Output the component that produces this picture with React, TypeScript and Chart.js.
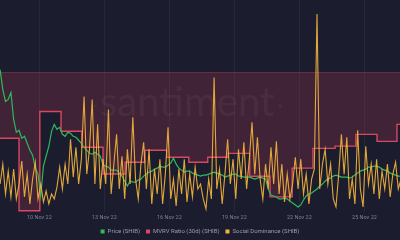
import React, { useEffect, useRef } from "react";
import { Chart, registerables } from "chart.js";

Chart.register(...registerables);

// Time is in hours since 9 Nov 2022 00:00
const SERIES_START_HOUR = -19.5;
const SERIES_STEP_HOURS = 3;
const X_MIN_HOUR = -19.6;
const X_MAX_HOUR = 423.4;

// Price (SHIB), in 1e-6 USD, every 3 hours
const priceShib = [
  11.1, 10.7, 10.46, 10.5, 10.64, 10.1, 9.84, 9.88, 9.72, 9.76,
  9.62, 9.48, 9.38, 9.12, 9.0, 8.56, 9.16, 9.36, 9.56, 9.86,
  10.0, 9.9, 9.94, 9.8, 9.76, 9.84, 9.82, 9.76, 9.74, 9.68,
  9.62, 9.54, 9.48, 9.42, 9.4, 9.44, 9.4, 9.36, 9.18, 9.16,
  9.14, 9.08, 9.08, 9.08, 9.02, 8.96, 8.86, 8.76, 8.86, 8.84,
  8.84, 8.88, 8.9, 8.96, 9.0, 9.04, 9.06, 9.1, 9.12, 9.16,
  9.14, 9.14, 9.18, 9.22, 9.32, 9.2, 9.12, 9.08, 9.04, 9.06,
  9.06, 9.02, 9.0, 8.98, 8.96, 8.98, 8.98, 9.0, 9.02, 9.04,
  9.02, 9.0, 8.98, 8.94, 8.96, 8.98, 9.0, 9.0, 8.96, 8.96,
  8.94, 8.94, 8.94, 8.92, 8.9, 8.92, 8.94, 8.92, 8.9, 8.7,
  8.58, 8.56, 8.54, 8.5, 8.5, 8.52, 8.5, 8.46, 8.42, 8.38,
  8.34, 8.38, 8.48, 8.56, 8.6, 8.62, 8.66, 8.7, 8.76, 8.8,
  8.86, 8.9, 8.92, 8.96, 8.98, 8.96, 8.94, 8.94, 8.94, 8.92,
  8.94, 8.98, 9.02, 9.06, 9.08, 9.1, 9.14, 9.14, 9.16, 9.16,
  9.14, 9.1, 9.08, 9.06, 9.02, 9.0, 8.98, 8.96, 8.96,
];

// Social Dominance (SHIB), %, every 3 hours
const socialDominance = [
  1.4, 2.4, 0.9, 2.05, 0.75, 2.15, 0.65, 1.4, 2.55, 0.75,
  1.9, 0.4, 1.65, 2.5, 0.65, 1.4, 0.5, 1.05, 0.4, 0.9,
  0.65, 1.25, 2.25, 1.15, 2.4, 1.4, 3.65, 1.75, 3.25, 1.4,
  2.65, 5.8, 1.9, 3.15, 5.65, 1.4, 4.4, 1.15, 2.65, 1.4,
  5.15, 0.9, 2.4, 3.9, 1.15, 2.8, 0.65, 3.15, 1.4, 4.75,
  1.65, 0.65, 2.4, 3.5, 1.15, 3.15, 0.4, 2.15, 0.9, 2.65,
  0.4, 1.9, 4.25, 0.65, 1.65, 0.3, 2.15, 0.9, 2.65, 0.5,
  1.9, 0.75, 2.25, 1.15, 1.4, 0.65, 0.15, 1.65, 0.65, 6.75,
  1.15, 2.15, 0.4, 1.9, 3.65, 1.4, 2.65, 0.65, 3.15, 1.65,
  3.5, 1.15, 2.65, 4.5, 1.9, 3.75, 1.65, 0.65, 2.4, 1.15,
  3.25, 1.4, 3.55, 0.9, 2.4, 0.5, 1.9, 0.65, 1.4, 2.75,
  1.15, 2.65, 0.9, 1.9, 0.4, 1.65, 2.15, 9.95, 1.15, 2.4,
  3.15, 1.4, 2.4, 0.65, 0.25, 1.9, 3.9, 1.9, 3.75, 0.65,
  1.65, 0.4, 4.1, 1.15, 0.25, 3.3, 1.4, 2.4, 0.9, 2.65,
  0.65, 2.05, 1.15, 2.4, 0.75, 1.9, 2.5, 1.15, 1.65,
];

// MVRV Ratio (30d) (SHIB), %, daily steps
const mvrvHours = [
  -19.6, 1.5, 24.5, 48, 71, 94.5, 119, 141, 165, 189.5,
  210.5, 233, 257, 279.5, 304, 327, 351.5, 374.5, 398, 420, 423.4,
];
const mvrvRatio = [
  -11.8, -24.8, -7.0, -10.55, -13.4, -18.2, -16.1, -13.95, -15.2, -16.1,
  -15.2, -14.5, -18.6, -22.3, -17.15, -13.6, -13.2, -11.1, -12.35, -9.3, -9.3,
];

const tickHours = [24, 96, 168, 240, 312, 384];
const tickLabels = ["10 Nov 22", "13 Nov 22", "16 Nov 22", "19 Nov 22", "22 Nov 22", "25 Nov 22"];

const seriesLabels = ["Price (SHIB)", "MVRV Ratio (30d) (SHIB)", "Social Dominance (SHIB)"];
const seriesColors = ["#2fb85c", "#d9485f", "#f2b33d"];

const BG = "#1b1d2e";

const watermarkPlugin = {
  id: "santimentWatermark",
  beforeDatasetsDraw(chart: any) {
    const { ctx, chartArea } = chart;
    ctx.save();
    ctx.fillStyle = "rgba(255,255,255,0.055)";
    ctx.font = "40px Lato";
    ctx.textBaseline = "alphabetic";
    ctx.textAlign = "left";
    const text = "santiment";
    const x0 = 100;
    ctx.fillText(text, x0, 116);
    const w = ctx.measureText(text).width;
    ctx.beginPath();
    ctx.arc(x0 + w + 6, 106, 2, 0, Math.PI * 2);
    ctx.fill();
    ctx.fillRect(x0 - 7, 105, 4, 1.5);
    // zero line of MVRV
    const y0 = chart.scales.yMvrv.getPixelForValue(0);
    ctx.strokeStyle = "rgba(214,72,95,0.35)";
    ctx.lineWidth = 1;
    ctx.beginPath();
    ctx.moveTo(chartArea.left, Math.round(y0) + 0.5);
    ctx.lineTo(chartArea.right, Math.round(y0) + 0.5);
    ctx.stroke();
    ctx.restore();
  },
};

export default function App() {
  const canvasRef = useRef<HTMLCanvasElement | null>(null);

  useEffect(() => {
    document.body.style.margin = "0";
    document.body.style.background = BG;
    const canvas = canvasRef.current;
    if (!canvas) return;
    const t = (i: number) => SERIES_START_HOUR + i * SERIES_STEP_HOURS;
    const chart = new Chart(canvas, {
      type: "line",
      data: {
        datasets: [
          {
            label: seriesLabels[0],
            data: priceShib.map((v, i) => ({ x: t(i), y: v })),
            borderColor: seriesColors[0],
            backgroundColor: seriesColors[0],
            borderWidth: 1.2,
            pointRadius: 0,
            yAxisID: "yPrice",
            order: 1,
          },
          {
            label: seriesLabels[1],
            data: mvrvHours.map((h, i) => ({ x: h, y: mvrvRatio[i] })),
            borderColor: seriesColors[1],
            backgroundColor: "rgba(214,62,88,0.2)",
            borderWidth: 1.4,
            pointRadius: 0,
            stepped: "before",
            fill: "origin",
            yAxisID: "yMvrv",
            order: 2,
          },
          {
            label: seriesLabels[2],
            data: socialDominance.map((v, i) => ({ x: t(i), y: v })),
            borderColor: "rgba(242,179,61,0.92)",
            backgroundColor: seriesColors[2],
            borderWidth: 1.1,
            pointRadius: 0,
            yAxisID: "ySocial",
            order: 0,
          },
        ],
      },
      options: {
        responsive: false,
        animation: false,
        devicePixelRatio: 1,
        layout: { padding: { top: 0, left: 0, right: 0, bottom: -4.5 } },
        font: { family: "Roboto" },
        plugins: {
          tooltip: { enabled: false },
          legend: {
            position: "bottom",
            labels: {
              color: "#9a9db0",
              font: { size: 6, family: "Roboto" },
              boxWidth: 4,
              boxHeight: 4,
              padding: 6,
              generateLabels: () =>
                seriesLabels.map((text, i) => ({
                  text,
                  fillStyle: seriesColors[i],
                  strokeStyle: seriesColors[i],
                  lineWidth: 0,
                  hidden: false,
                  datasetIndex: i,
                  fontColor: "#9a9db0",
                })),
            },
          },
        },
        scales: {
          x: {
            type: "linear",
            min: X_MIN_HOUR,
            max: X_MAX_HOUR,
            afterBuildTicks: (axis: any) => {
              axis.ticks = tickHours.map((v) => ({ value: v }));
            },
            ticks: {
              autoSkip: false,
              maxRotation: 0,
              color: "#7c8094",
              font: { size: 5.5, family: "Roboto" },
              padding: 2,
              callback: (v: any) => {
                const k = tickHours.indexOf(Number(v));
                return k >= 0 ? tickLabels[k] : "";
              },
            },
            grid: {
              color: "rgba(255,255,255,0.05)",
              drawTicks: false,
            },
            border: { display: false },
          },
          yPrice: { display: false, min: 8.24, max: 12.5 },
          ySocial: { display: false, min: 0, max: 10.65 },
          yMvrv: { display: false, min: -25, max: 13 },
        },
      },
      plugins: [watermarkPlugin],
    });
    return () => chart.destroy();
  }, []);

  return (
    <div style={{ position: "fixed", left: 0, top: 0, width: 400, height: 240, background: BG }}>
      <canvas ref={canvasRef} width={400} height={240} />
    </div>
  );
}
